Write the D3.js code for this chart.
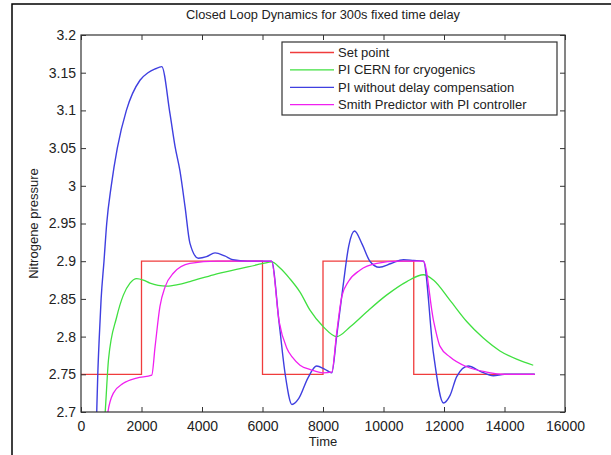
<!DOCTYPE html>
<html>
<head>
<meta charset="utf-8">
<script src="https://cdn.jsdelivr.net/npm/d3@7"></script>
<style>
  body { margin: 0; background: #fff; }
  text { font-family: "Liberation Sans", Arial, sans-serif; fill: #222; }
</style>
</head>
<body>
<svg id="chart" width="611" height="455"></svg>
<script>
// set point steps
var spTime = [0, 2000, 6000, 8000, 11000, 15000];
var spValue = [2.75, 2.9, 2.75, 2.9, 2.75, 2.75];

// PI CERN for cryogenics
var greenTime = [650, 800, 910, 1180, 1400, 1620, 1840, 2060, 2280, 2550, 2830, 3200, 3600, 4380, 5260, 6030, 6300, 6580, 6900, 7240, 7570, 8010, 8450, 8900, 9450, 10100, 10770, 11320, 11650, 12200, 12750, 13300, 13850, 14400, 14950];
var greenValue = [2.62, 2.7, 2.77, 2.826, 2.855, 2.871, 2.877, 2.875, 2.871, 2.868, 2.867, 2.869, 2.873, 2.882, 2.89, 2.897, 2.899, 2.891, 2.877, 2.859, 2.835, 2.813, 2.8, 2.813, 2.833, 2.855, 2.873, 2.882, 2.875, 2.848, 2.82, 2.798, 2.781, 2.77, 2.762];

// PI without delay compensation
var blueTime = [470, 520, 555, 605, 665, 760, 850, 1000, 1200, 1500, 1950, 2215, 2450, 2670, 2940, 3110, 3270, 3440, 3600, 3880, 4150, 4430, 4750, 5020, 5500, 6300, 6550, 6750, 6975, 7200, 7500, 7790, 8050, 8290, 8450, 8660, 8850, 9040, 9300, 9550, 9860, 10250, 10660, 11000, 11320, 11650, 11980, 12200, 12420, 12800, 13200, 13630, 14000, 15000];
var blueValue = [2.62, 2.7, 2.75, 2.8, 2.85, 2.9, 2.95, 3.0, 3.05, 3.1, 3.14, 3.15, 3.155, 3.158, 3.096, 3.052, 3.02, 2.972, 2.924, 2.904, 2.906, 2.911, 2.907, 2.902, 2.9, 2.9, 2.818, 2.75, 2.71, 2.718, 2.745, 2.761, 2.757, 2.752, 2.8, 2.866, 2.92, 2.94, 2.922, 2.9, 2.892, 2.897, 2.902, 2.901, 2.9, 2.778, 2.712, 2.722, 2.747, 2.761, 2.754, 2.748, 2.75, 2.75];

// Smith Predictor with PI controller
var pinkTime = [800, 890, 1070, 1400, 1840, 2340, 2450, 2610, 2780, 3050, 3600, 4500, 6300, 6550, 6800, 7000, 7240, 7600, 8000, 8290, 8450, 8620, 8840, 9220, 9780, 10500, 11320, 11650, 11870, 12200, 12750, 13410, 14000, 15000];
var pinkValue = [2.67, 2.7, 2.725, 2.738, 2.745, 2.749, 2.787, 2.84, 2.866, 2.884, 2.897, 2.9, 2.9, 2.82, 2.785, 2.772, 2.762, 2.756, 2.752, 2.753, 2.804, 2.853, 2.873, 2.888, 2.897, 2.9, 2.9, 2.822, 2.787, 2.773, 2.76, 2.753, 2.75, 2.75];

var legendNames = ["Set point", "PI CERN for cryogenics", "PI without delay compensation", "Smith Predictor with PI controller"];
var colors = ["#f03c3c", "#40e040", "#3f3fe0", "#f020f0"];

var xTicks = [0, 2000, 4000, 6000, 8000, 10000, 12000, 14000, 16000];
var yTicks = [2.7, 2.75, 2.8, 2.85, 2.9, 2.95, 3, 3.05, 3.1, 3.15, 3.2];

var svg = d3.select("#chart");
var plotLeft = 81, plotRight = 565, plotTop = 35, plotBottom = 412;

var x = d3.scaleLinear().domain([0, 16000]).range([plotLeft, plotRight]);
var y = d3.scaleLinear().domain([2.7, 3.2]).range([plotBottom, plotTop]);

// outer frame
svg.append("rect")
    .attr("x", 12).attr("y", 4)
    .attr("width", 640).attr("height", 480)
    .attr("fill", "none").attr("stroke", "#000").attr("stroke-width", 1.5);

svg.append("text")
    .attr("x", 323).attr("y", 19)
    .attr("text-anchor", "middle")
    .style("font-size", "12.8px")
    .text("Closed Loop Dynamics for 300s fixed time delay");

svg.append("clipPath").attr("id", "plotclip")
  .append("rect")
    .attr("x", plotLeft).attr("y", plotTop)
    .attr("width", plotRight - plotLeft).attr("height", plotBottom - plotTop);

function zip(ts, vs) {
    return ts.map(function(t, i) { return [t, vs[i]]; });
}

var smooth = d3.line()
    .x(function(d) { return x(d[0]); })
    .y(function(d) { return y(d[1]); })
    .curve(d3.curveMonotoneX);

var step = d3.line()
    .x(function(d) { return x(d[0]); })
    .y(function(d) { return y(d[1]); })
    .curve(d3.curveStepAfter);

var plot = svg.append("g").attr("clip-path", "url(#plotclip)");

plot.append("path")
    .attr("d", step(zip(spTime, spValue)))
    .attr("fill", "none").attr("stroke", colors[0]).attr("stroke-width", 1.3);
plot.append("path")
    .attr("d", smooth(zip(greenTime, greenValue)))
    .attr("fill", "none").attr("stroke", colors[1]).attr("stroke-width", 1.3);
plot.append("path")
    .attr("d", smooth(zip(blueTime, blueValue)))
    .attr("fill", "none").attr("stroke", colors[2]).attr("stroke-width", 1.4);
plot.append("path")
    .attr("d", smooth(zip(pinkTime, pinkValue)))
    .attr("fill", "none").attr("stroke", colors[3]).attr("stroke-width", 1.3);

// axes box with inner ticks on all sides
var axisColor = "#333";
svg.append("rect")
    .attr("x", plotLeft).attr("y", plotTop)
    .attr("width", plotRight - plotLeft).attr("height", plotBottom - plotTop)
    .attr("fill", "none").attr("stroke", axisColor).attr("stroke-width", 1.2);

var gx = svg.append("g").attr("transform", "translate(0," + plotBottom + ")")
    .call(d3.axisBottom(x).tickValues(xTicks).tickSize(-5).tickPadding(9).tickFormat(d3.format("d")));
var gxt = svg.append("g").attr("transform", "translate(0," + plotTop + ")")
    .call(d3.axisTop(x).tickValues(xTicks).tickSize(-5).tickFormat(""));
var gy = svg.append("g").attr("transform", "translate(" + plotLeft + ",0)")
    .call(d3.axisLeft(y).tickValues(yTicks).tickSize(-5).tickPadding(5).tickFormat(d3.format("")));
var gyr = svg.append("g").attr("transform", "translate(" + plotRight + ",0)")
    .call(d3.axisRight(y).tickValues(yTicks).tickSize(-5).tickFormat(""));

[gx, gxt, gy, gyr].forEach(function(g) {
    g.select(".domain").remove();
    g.selectAll(".tick line").attr("stroke", axisColor);
    g.selectAll("text").style("font-size", "14px").attr("fill", "#222")
        .style("font-family", "'Liberation Sans', Arial, sans-serif");
});

svg.append("text")
    .attr("x", 323).attr("y", 446)
    .attr("text-anchor", "middle")
    .style("font-size", "13px")
    .text("Time");

svg.append("text")
    .attr("transform", "translate(38," + ((plotTop + plotBottom) / 2) + ") rotate(-90)")
    .attr("text-anchor", "middle")
    .style("font-size", "13px")
    .text("Nitrogene pressure");

// legend
var lg = svg.append("g");
lg.append("rect")
    .attr("x", 282).attr("y", 42)
    .attr("width", 275).attr("height", 73)
    .attr("fill", "#fff").attr("stroke", axisColor).attr("stroke-width", 1.2);

legendNames.forEach(function(name, i) {
    var ly = 52.5 + i * 17.4;
    lg.append("line")
        .attr("x1", 290).attr("x2", 334)
        .attr("y1", ly).attr("y2", ly)
        .attr("stroke", colors[i]).attr("stroke-width", 1.3);
    lg.append("text")
        .attr("x", 338).attr("y", ly + 4.5)
        .style("font-size", "13px")
        .text(name);
});
</script>
</body>
</html>
